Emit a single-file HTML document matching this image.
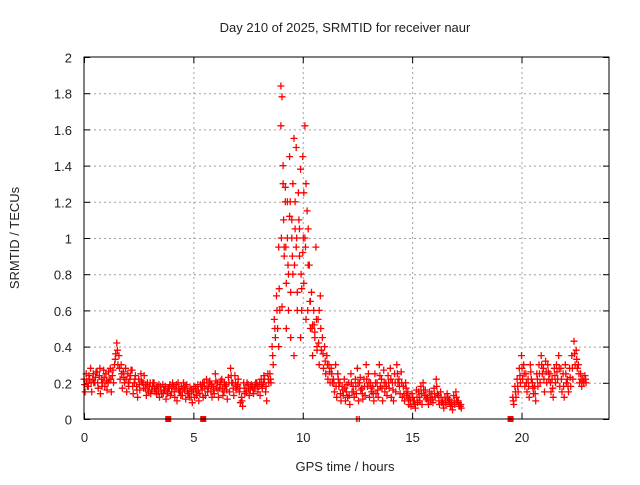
<!DOCTYPE html>
<html><head><meta charset="utf-8"><style>
body{margin:0;background:#fff;}
svg text{font-family:"Liberation Sans",sans-serif;font-size:13px;fill:#222;}
</style></head><body>
<svg id="chart" width="640" height="480" xmlns="http://www.w3.org/2000/svg">
<rect width="640" height="480" fill="#fff"/>
<text x="345" y="32" text-anchor="middle">Day 210 of 2025, SRMTID for receiver naur</text>
<text x="19" y="238" text-anchor="middle" transform="rotate(-90 19 238)">SRMTID / TECUs</text>
<text x="345" y="471" text-anchor="middle">GPS time / hours</text>
<g id="grid"></g>
<g id="ticks"></g>
<g id="marks"></g>
<rect x="84" y="57" width="525" height="362" fill="none" stroke="#000" stroke-width="1"/>
</svg>
<script>
const xTicks=[0,5,10,15,20];
const yTicks=[0,0.2,0.4,0.6,0.8,1,1.2,1.4,1.6,1.8,2];
const yTickLabels=["0","0.2","0.4","0.6","0.8","1","1.2","1.4","1.6","1.8","2"];
const segmentStarts=[0,8.5,11.3,19.6];
const sampleStep=0.1;
const seriesA=[
[0.22,0.25,0.18,0.28,0.22,0.2,0.26,0.24,0.22,0.27,0.25,0.2,0.28,0.24,0.3,0.42,0.35,0.3,0.26,0.28,0.25,0.22,0.27,0.2,0.18,0.22,0.25,0.2,0.17,0.2,0.18,0.16,0.2,0.17,0.15,0.18,0.19,0.16,0.14,0.17,0.15,0.18,0.17,0.2,0.15,0.13,0.16,0.19,0.14,0.12,0.15,0.17,0.19,0.14,0.16,0.2,0.22,0.17,0.15,0.18,0.25,0.2,0.17,0.22,0.15,0.19,0.23,0.28,0.2,0.24,0.18,0.15,0.12,0.2,0.17,0.19,0.16,0.18,0.17,0.2,0.18,0.22,0.2,0.15,0.25],
[0.25,0.4,0.55,0.68,0.95,1.84,1.3,1.2,1.0,1.45,1.1,1.55,1.5,1.25,1.38,1.45,1.62,1.15,0.85,0.7,0.6,0.95,0.55,0.68,0.45,0.4,0.35,0.3],
[0.28,0.22,0.3,0.25,0.2,0.18,0.22,0.15,0.2,0.25,0.18,0.22,0.28,0.2,0.17,0.22,0.3,0.25,0.2,0.18,0.25,0.2,0.3,0.22,0.27,0.2,0.24,0.28,0.2,0.25,0.3,0.22,0.26,0.18,0.2,0.15,0.12,0.14,0.1,0.16,0.15,0.18,0.2,0.16,0.12,0.15,0.14,0.17,0.22,0.13,0.15,0.1,0.12,0.14,0.11,0.09,0.13,0.15,0.1,0.07],
[0.12,0.18,0.22,0.28,0.35,0.3,0.25,0.22,0.3,0.2,0.18,0.25,0.3,0.35,0.28,0.32,0.3,0.25,0.22,0.28,0.3,0.35,0.28,0.25,0.3,0.22,0.28,0.35,0.43,0.38,0.3,0.25,0.22,0.24]];
const seriesB=[
[0.15,0.18,0.22,0.15,0.2,0.26,0.17,0.14,0.2,0.18,0.16,0.22,0.15,0.2,0.36,0.3,0.22,0.17,0.2,0.15,0.18,0.27,0.14,0.24,0.12,0.16,0.2,0.24,0.13,0.15,0.14,0.2,0.15,0.18,0.12,0.14,0.16,0.11,0.17,0.13,0.2,0.12,0.1,0.15,0.18,0.2,0.11,0.14,0.17,0.09,0.12,0.13,0.1,0.18,0.12,0.13,0.15,0.21,0.12,0.14,0.17,0.12,0.21,0.13,0.18,0.11,0.15,0.2,0.13,0.16,0.22,0.09,0.07,0.14,0.2,0.13,0.19,0.14,0.2,0.15,0.13,0.17,0.22,0.1,0.2],
[0.2,0.3,0.45,0.5,0.6,1.78,0.9,0.75,0.6,0.45,0.8,1.05,0.7,0.9,0.6,0.75,1.3,0.85,0.5,0.35,0.45,0.4,0.3,0.38,0.28,0.25,0.22,0.2],
[0.2,0.15,0.12,0.18,0.1,0.13,0.1,0.12,0.08,0.15,0.12,0.14,0.1,0.16,0.11,0.13,0.18,0.12,0.15,0.1,0.14,0.12,0.18,0.1,0.15,0.13,0.17,0.12,0.1,0.15,0.2,0.14,0.12,0.1,0.13,0.08,0.07,0.1,0.06,0.09,0.1,0.08,0.13,0.11,0.08,0.1,0.09,0.12,0.14,0.08,0.09,0.06,0.08,0.1,0.07,0.05,0.08,0.1,0.07,0.06],
[0.08,0.12,0.15,0.2,0.22,0.18,0.15,0.12,0.22,0.14,0.1,0.18,0.2,0.25,0.15,0.2,0.22,0.15,0.12,0.2,0.22,0.18,0.15,0.12,0.2,0.15,0.18,0.22,0.3,0.28,0.2,0.18,0.2,0.2]];
const seriesC=[
[0.19,0.21,0.24,0.2,0.25,0.23,0.2,0.28,0.18,0.23,0.21,0.26,0.22,0.27,0.33,0.38,0.28,0.25,0.23,0.22,0.2,0.24,0.18,0.22,0.16,0.19,0.21,0.17,0.19,0.16,0.2,0.18,0.17,0.14,0.19,0.16,0.14,0.18,0.15,0.19,0.17,0.15,0.19,0.16,0.13,0.17,0.18,0.15,0.12,0.16,0.18,0.15,0.16,0.19,0.2,0.17,0.18,0.2,0.19,0.16,0.21,0.16,0.19,0.17,0.2,0.16,0.2,0.24,0.17,0.2,0.19,0.17,0.1,0.17,0.15,0.17,0.18,0.16,0.19,0.18,0.2,0.19,0.24,0.18,0.22],
[0.22,0.35,0.5,0.6,0.72,1.0,1.1,0.95,0.85,1.2,0.9,0.85,1.0,1.1,0.8,1.0,0.95,0.6,0.65,0.5,0.52,0.55,0.42,0.5,0.36,0.32,0.3,0.26],
[0.25,0.2,0.18,0.22,0.14,0.16,0.17,0.19,0.13,0.2,0.15,0.18,0.2,0.23,0.14,0.18,0.22,0.2,0.17,0.14,0.2,0.16,0.24,0.17,0.2,0.18,0.2,0.22,0.16,0.2,0.25,0.18,0.2,0.14,0.17,0.11,0.1,0.12,0.08,0.12,0.12,0.14,0.16,0.13,0.1,0.12,0.11,0.14,0.18,0.1,0.12,0.08,0.1,0.12,0.09,0.07,0.1,0.12,0.09,0.08],
[0.1,0.15,0.18,0.24,0.28,0.25,0.2,0.18,0.26,0.17,0.14,0.22,0.25,0.3,0.22,0.26,0.26,0.2,0.17,0.24,0.26,0.28,0.22,0.18,0.25,0.18,0.23,0.28,0.36,0.33,0.25,0.22,0.21,0.22]];
const extraTimes=[9.0,9.1,9.2,9.3,9.35,9.45,9.5,9.55,9.65,9.7,9.75,9.85,9.95,10.05,10.1,10.15,10.25,10.35,10.45,10.55,10.65,10.75,8.9,9.15,9.25,9.6,9.9,10.0,9.05,9.4];
const extraValues=[1.62,1.4,1.28,1.2,0.8,0.7,1.0,1.3,1.2,0.95,0.6,1.05,0.72,1.25,1.0,0.55,1.05,0.65,0.52,0.48,0.38,0.6,0.4,0.95,0.5,0.35,0.45,0.92,0.62,1.12];
const zeroTimes=[3.85,5.45,19.5];
const zeroTickTimes=[12.45,12.52,12.59];

const NS="http://www.w3.org/2000/svg";
const X0=84,X1=609,Y0=419,Y1=57;
const xs=t=>X0+t/24*(X1-X0);
const ys=v=>Y0-v/2*(Y0-Y1);
const grid=document.getElementById('grid'),ticks=document.getElementById('ticks'),marks=document.getElementById('marks');
function line(p,x1,y1,x2,y2,c,dash){const l=document.createElementNS(NS,'line');l.setAttribute('x1',x1);l.setAttribute('y1',y1);l.setAttribute('x2',x2);l.setAttribute('y2',y2);l.setAttribute('stroke',c);if(dash)l.setAttribute('stroke-dasharray',dash);p.appendChild(l);return l;}
function txt(x,y,s,a){const t=document.createElementNS(NS,'text');t.setAttribute('x',x);t.setAttribute('y',y);t.setAttribute('text-anchor',a);t.textContent=s;ticks.appendChild(t);return t;}
yTicks.forEach((v,i)=>{const y=ys(v)+0.5;
 if(i>0&&i<yTicks.length-1){const g=line(grid,X0,y,X1,y,'#a0a0a0','2,3');
 
 }
 line(ticks,X0,y,X0+6,y,'#000');line(ticks,X1-6,y,X1,y,'#000');
 const t=txt(72,y+5,yTickLabels[i],'end');
 
 });
xTicks.forEach((v,i)=>{const x=xs(v)+0.5;
 if(i>0){const g=line(grid,x,Y1,x,Y0,'#a0a0a0','2,3');
 
 }
 line(ticks,x,Y0-6,x,Y0,'#000');line(ticks,x,Y1,x,Y1+6,'#000');
 const t=txt(x,442,String(v),'middle');
 
 });
let d='';
function plus(t,v){const x=xs(t),y=ys(v);d+=`M${(x-3.5).toFixed(1)} ${y.toFixed(1)}h7M${x.toFixed(1)} ${(y-3.5).toFixed(1)}v7`;}
segmentStarts.forEach((s,k)=>{
 seriesA[k].forEach((v,i)=>plus(s+i*sampleStep,v));
 seriesB[k].forEach((v,i)=>plus(s+i*sampleStep+0.05,v));
 seriesC[k].forEach((v,i)=>plus(s+i*sampleStep+0.025,v));});
extraTimes.forEach((t,i)=>plus(t,extraValues[i]));
const p=document.createElementNS(NS,'path');p.setAttribute('d',d);p.setAttribute('stroke','#f00');p.setAttribute('fill','none');p.setAttribute('stroke-width','1.3');


marks.appendChild(p);
zeroTimes.forEach(t=>{const r=document.createElementNS(NS,'rect');r.setAttribute('x',xs(t)-3);r.setAttribute('y',Y0-3);r.setAttribute('width',6);r.setAttribute('height',6);r.setAttribute('fill','#f00');
 
 
 marks.appendChild(r);});
zeroTickTimes.forEach(t=>{const l=line(marks,xs(t),Y0-3,xs(t),Y0+3,'#f00');
 
 });
</script>
</body></html>
